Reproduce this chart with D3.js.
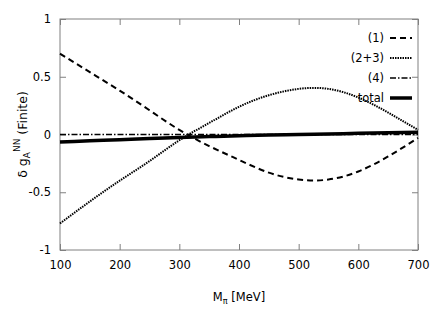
<!DOCTYPE html>
<html>
<head>
<meta charset="utf-8">
<script src="https://cdn.jsdelivr.net/npm/d3@7"></script>
<style>
  body { margin: 0; background: #fff; }
  text { font-family: "DejaVu Sans", sans-serif; }
</style>
</head>
<body>
<div id="chart"></div>
<script>
// Data
const mpi = [100, 150, 200, 250, 300, 350, 400, 450, 500, 550, 600, 650, 700];
const term1 = [0.70, 0.54, 0.38, 0.21, 0.04, -0.10, -0.22, -0.33, -0.39, -0.39, -0.32, -0.19, -0.03];
const term23 = [-0.77, -0.58, -0.40, -0.23, -0.05, 0.10, 0.24, 0.34, 0.395, 0.395, 0.32, 0.19, 0.04];
const term4 = [0.0, 0.0, 0.0, 0.0, 0.0, 0.0, 0.0, 0.0, 0.0, 0.0, 0.0, 0.0, 0.0];
const total = [-0.065, -0.055, -0.045, -0.035, -0.026, -0.018, -0.011, -0.005, 0.0, 0.005, 0.01, 0.015, 0.02];
const xTicks = [100, 200, 300, 400, 500, 600, 700];
const yTicks = [-1, -0.5, 0, 0.5, 1];
const seriesNames = ['(1)', '(2+3)', '(4)', 'total'];

// Layout
const W = 436, H = 327;
const margin = { top: 19, right: 18, bottom: 77, left: 60 };
const width = W - margin.left - margin.right;
const height = H - margin.top - margin.bottom;

const svg = d3.select('#chart')
  .append('svg')
  .attr('width', W)
  .attr('height', H);

const g = svg.append('g')
  .attr('transform', `translate(${margin.left}, ${margin.top})`);

// Scales
const xScale = d3.scaleLinear().domain([100, 700]).range([0, width]);
const yScale = d3.scaleLinear().domain([-1, 1]).range([height, 0]);

// Axes (gnuplot style: ticks inside, mirrored)
const frameColor = '#808080';
const tickLen = 6;
const plain = d => String(d);

const axes = [
  { ax: d3.axisBottom(xScale).tickValues(xTicks).tickSize(-tickLen).tickPadding(11).tickFormat(plain), at: `translate(0, ${height})` },
  { ax: d3.axisTop(xScale).tickValues(xTicks).tickSize(-tickLen).tickFormat(''), at: 'translate(0, 0)' },
  { ax: d3.axisLeft(yScale).tickValues(yTicks).tickSize(-tickLen).tickPadding(9).tickFormat(plain), at: 'translate(0, 0)' },
  { ax: d3.axisRight(yScale).tickValues(yTicks).tickSize(-tickLen).tickFormat(''), at: `translate(${width}, 0)` }
];

axes.forEach(a => {
  const sel = g.append('g').attr('transform', a.at).call(a.ax);
  sel.select('.domain').remove();
  sel.selectAll('.tick line').attr('stroke', frameColor);
  sel.selectAll('.tick text')
    .attr('fill', '#000')
    .style('font-size', '11.5px');
});

g.append('rect')
  .attr('width', width)
  .attr('height', height)
  .attr('fill', 'none')
  .attr('stroke', frameColor)
  .attr('stroke-width', 1);

// Lines
const series = [
  { name: seriesNames[0], values: term1, dash: '6,4', width: 2 },
  { name: seriesNames[1], values: term23, dash: '1.5,1', width: 2 },
  { name: seriesNames[2], values: term4, dash: '6,2,1.5,2', width: 1.5 },
  { name: seriesNames[3], values: total, dash: null, width: 3.5 }
];

const line = d3.line()
  .x((d, i) => xScale(mpi[i]))
  .y(d => yScale(d))
  .curve(d3.curveNatural);

const plot = g.append('g');
series.forEach(s => {
  plot.append('path')
    .datum(s.values)
    .attr('fill', 'none')
    .attr('stroke', '#000')
    .attr('stroke-width', s.width)
    .attr('stroke-dasharray', s.dash)
    .attr('d', line);
});

// Legend
const legend = g.append('g').attr('transform', `translate(${width - 28}, 19)`);
series.forEach((s, i) => {
  const row = legend.append('g').attr('transform', `translate(0, ${i * 20})`);
  row.append('text')
    .attr('x', -6)
    .attr('y', 0)
    .attr('dy', '0.35em')
    .attr('text-anchor', 'end')
    .style('font-size', '11.5px')
    .text(s.name);
  row.append('line')
    .attr('x1', 0)
    .attr('x2', 22)
    .attr('stroke', '#000')
    .attr('stroke-width', s.width)
    .attr('stroke-dasharray', s.dash);
});

// Axis labels
svg.append('text')
  .attr('x', margin.left + width / 2)
  .attr('y', 301)
  .attr('text-anchor', 'middle')
  .style('font-size', '11.5px')
  .html('M<tspan dy="3" font-size="8px">π</tspan><tspan dy="-3"> [MeV]</tspan>');

svg.append('text')
  .attr('transform', `translate(27, ${margin.top + height / 2}) rotate(-90)`)
  .attr('text-anchor', 'middle')
  .style('font-size', '12.5px')
  .html('δ g<tspan dy="3" font-size="9px">A</tspan><tspan dy="-10" font-size="9px">NN</tspan><tspan dy="7"> (Finite)</tspan>');
</script>
</body>
</html>
